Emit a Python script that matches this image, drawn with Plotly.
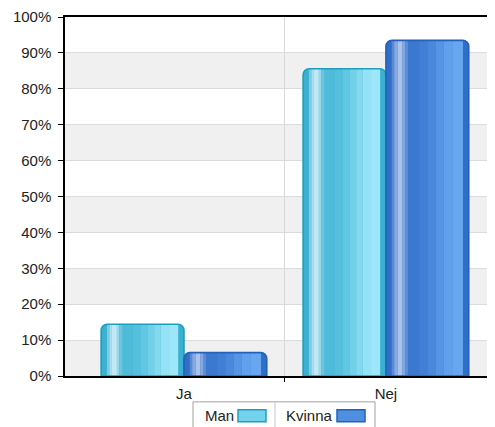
import plotly.graph_objects as go

categories = ["Ja", "Nej"]
man_values = [14.4, 85.6]
kvinna_values = [6.5, 93.5]
series_names = ["Man", "Kvinna"]
y_ticks = [0, 10, 20, 30, 40, 50, 60, 70, 80, 90, 100]
y_tick_labels = ["0%", "10%", "20%", "30%", "40%", "50%", "60%", "70%", "80%", "90%", "100%"]

FONT = "Liberation Sans"
TXT = "#222222"
BAR_W = 0.41
RADIUS = 6

styles = {
    "Man": dict(
        offset=-BAR_W, base="#3bb1d1", line="#1c9ec1", swatch="#74d2ec",
        stripes=[(0.07, 0.10, "#7ccbe0"), (0.10, 0.13, "#a8def0"), (0.13, 0.19, "#c2e9f3"),
                 (0.19, 0.22, "#98d8ea"), (0.22, 0.26, "#6cc6e0"), (0.26, 0.38, "#4ebbd8"),
                 (0.38, 0.48, "#56c0dc"), (0.48, 0.56, "#62c7e2"), (0.56, 0.64, "#72d0e8"),
                 (0.64, 0.72, "#83d9ef"), (0.72, 0.82, "#95e2f6"), (0.82, 0.93, "#9ee6f9")]),
    "Kvinna": dict(
        offset=0.0, base="#2f6fc7", line="#2461bd", swatch="#4f8fe0",
        stripes=[(0.07, 0.10, "#5a8ad2"), (0.10, 0.14, "#88aae0"), (0.14, 0.20, "#a9c3ea"),
                 (0.20, 0.23, "#86a9e0"), (0.23, 0.27, "#5c8ed8"), (0.27, 0.40, "#3b78d0"),
                 (0.40, 0.50, "#417fd6"), (0.50, 0.60, "#4a88dc"), (0.60, 0.70, "#5694e4"),
                 (0.70, 0.80, "#60a0ec"), (0.80, 0.93, "#68a7f0")]),
}

fig = go.Figure()
for name, vals in zip(series_names, [man_values, kvinna_values]):
    s = styles[name]
    fig.add_trace(go.Bar(x=categories, y=vals, offset=s["offset"], width=BAR_W,
                         marker=dict(color=s["base"], line=dict(width=0), cornerradius=RADIUS),
                         showlegend=False, hoverinfo="skip"))
    for f0, f1, col in s["stripes"]:
        fig.add_trace(go.Bar(x=categories, y=vals, offset=s["offset"] + f0 * BAR_W,
                             width=(f1 - f0) * BAR_W,
                             marker=dict(color=col, line=dict(width=0)),
                             showlegend=False, hoverinfo="skip"))
    fig.add_trace(go.Bar(x=categories, y=vals, offset=s["offset"], width=BAR_W, name=name,
                         marker=dict(color="rgba(0,0,0,0)", line=dict(width=1.6, color=s["line"]),
                                     cornerradius=RADIUS),
                         showlegend=False))

# dummy trace for the secondary axis carrying the category divider
fig.add_trace(go.Scatter(x=[None], y=[None], xaxis="x2", showlegend=False, hoverinfo="skip"))

# alternating bands
shapes = []
for i in range(0, len(y_ticks) - 1, 2):
    shapes.append(dict(type="rect", xref="paper", yref="y", x0=0, x1=1,
                       y0=y_ticks[i], y1=y_ticks[i + 1], fillcolor="#f0f0f0",
                       line=dict(width=0), layer="below"))

# page is offset by the 8px body margin; plot area spans page x 65..495, y 15..376
def px_x(p):
    return (p - 65) / 430.0

def px_y(p):
    return (376 - p) / 361.0

shapes.append(dict(type="rect", xref="paper", yref="paper", x0=px_x(193), x1=px_x(375),
                   y0=px_y(440), y1=px_y(402), line=dict(color="#a0a0a0", width=1),
                   fillcolor="white"))
shapes.append(dict(type="line", xref="paper", yref="paper", x0=px_x(275), x1=px_x(275),
                   y0=px_y(440), y1=px_y(402), line=dict(color="#c8c8c8", width=1)))
annotations = []
leg_pos = {"Man": (236, 238, 266), "Kvinna": (335, 337, 365)}
for name in series_names:
    tx, s0, s1 = leg_pos[name]
    s = styles[name]
    shapes.append(dict(type="rect", xref="paper", yref="paper", x0=px_x(s0), x1=px_x(s1),
                       y0=px_y(422), y1=px_y(410), fillcolor=s["swatch"],
                       line=dict(color=s["line"], width=1.5)))
    annotations.append(dict(xref="paper", yref="paper", x=px_x(tx), y=px_y(416),
                            text=name, showarrow=False, xanchor="right", yanchor="middle",
                            font=dict(family=FONT, size=15, color=TXT)))

x_range = [-0.589, 1.54]
fig.update_layout(
    width=487, height=419,
    margin=dict(l=57, r=0, t=7, b=51),
    paper_bgcolor="white", plot_bgcolor="white",
    barmode="overlay",
    font=dict(family=FONT, size=15, color=TXT),
    shapes=shapes, annotations=annotations,
    xaxis=dict(type="category", range=x_range, showline=True, linecolor="black",
               linewidth=1.5, mirror=True, showgrid=False, ticks="",
               ticklabelstandoff=3, tickfont=dict(size=15, color=TXT)),
    xaxis2=dict(overlaying="x", anchor="y", range=x_range, tickvals=[0.5],
                showticklabels=False, showgrid=True, gridcolor="#d8d8d8", gridwidth=1,
                ticks="outside", ticklen=5, tickcolor="black", showline=False,
                zeroline=False),
    yaxis=dict(range=[0, 100], tickvals=y_ticks, ticktext=y_tick_labels, showline=True,
               linecolor="black", linewidth=1.5, ticks="outside", ticklen=5,
               tickcolor="black", showgrid=True, gridcolor="#dcdcdc", gridwidth=1,
               zeroline=False, ticklabelstandoff=4, ticklabeloverflow="allow",
               tickfont=dict(size=15, color=TXT)),
)

fig.write_html("out.html")
